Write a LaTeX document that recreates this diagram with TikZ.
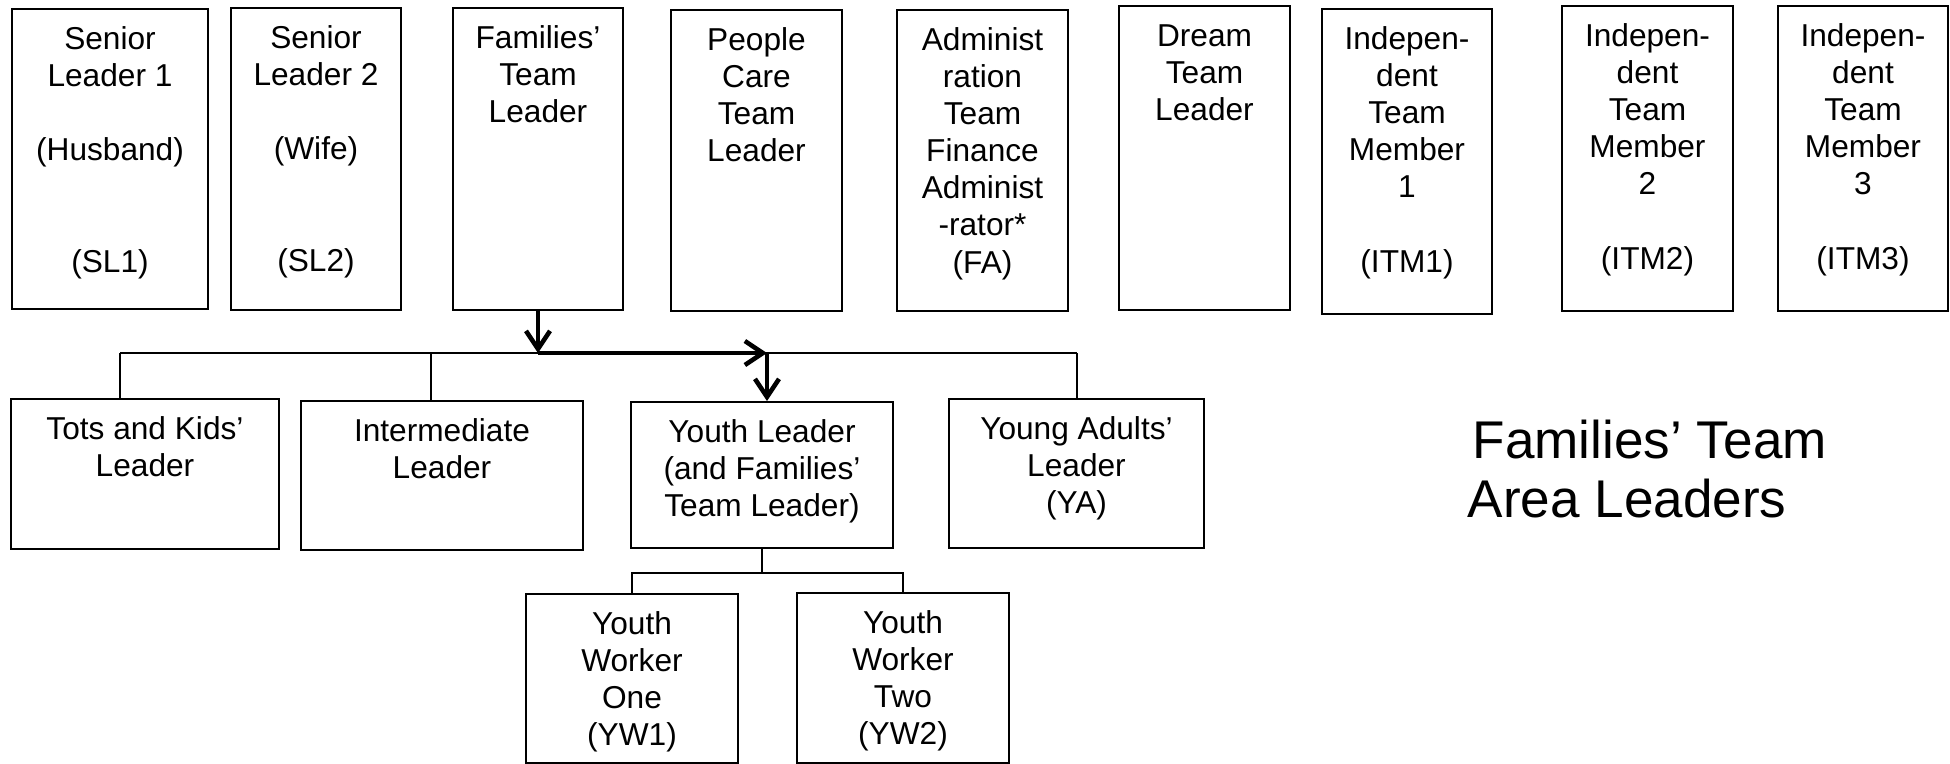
\documentclass[tikz,border=0pt]{standalone}
\usepackage{fontspec}
\setmainfont{Liberation Sans}
\usetikzlibrary{arrows.meta,calc}
\newlength\pxu
\setlength\pxu{0.01cm}
\newcommand{\orgtext}[3]{\parbox[c][#2\pxu][t]{#1\pxu}{\centering\vspace*{4.0pt}\strut#3}}
\tikzset{
	orgbox/.style={draw, line width=0.57pt, anchor=north west, inner sep=0pt, font=\fontsize{9}{10.57}\selectfont},
	link/.style={line width=0.57pt},
	boldlink/.style={line width=1.3pt, -{Straight Barb[length=0.18cm,width=0.24cm]}}
}

\begin{document}
\begin{tikzpicture}[x=0.01cm, y=-0.01cm]
			%%%%% START %%%%%
			\useasboundingbox (0,0) rectangle (1950,763);
			
			\node[orgbox] (sl1) at (11,8) {\orgtext{196}{300}{Senior\\Leader 1\\~\\(Husband)\\~\\~\\(SL1)}};
			\node[orgbox] (sl2) at (230,7) {\orgtext{170}{302}{Senior\\Leader 2\\~\\(Wife)\\~\\~\\(SL2)}};
			\node[orgbox] (ftl) at (452,7) {\orgtext{170}{302}{Families'\\Team\\Leader}};
			\node[orgbox] (pct) at (670,9) {\orgtext{171}{301}{People\\Care\\Team\\Leader}};
			\node[orgbox] (atf) at (896,9) {\orgtext{171}{301}{Administ\\ration\\Team\\Finance\\Administ\\-rator*\\(FA)}};
			\node[orgbox] (dtl) at (1118,5) {\orgtext{171}{304}{Dream\\Team\\Leader}};
			\node[orgbox] (itm1) at (1321,8) {\orgtext{170}{305}{Indepen-\\dent\\Team\\Member\\1\\~\\(ITM1)}};
			\node[orgbox] (itm2) at (1561,5) {\orgtext{171}{305}{Indepen-\\dent\\Team\\Member\\2\\~\\(ITM2)}};
			\node[orgbox] (itm3) at (1777,5) {\orgtext{170}{305}{Indepen-\\dent\\Team\\Member\\3\\~\\(ITM3)}};
			
			\node[orgbox] (tk) at (10,398) {\orgtext{268}{150}{Tots and Kids'\\Leader}};
			\node[orgbox] (int) at (300,400) {\orgtext{282}{149}{Intermediate\\Leader}};
			\node[orgbox] (yl) at (630,401) {\orgtext{262}{146}{Youth Leader\\(and Families'\\Team Leader)}};
			\node[orgbox] (ya) at (948,398) {\orgtext{255}{149}{Young Adults'\\Leader\\(YA)}};
			
			\node[orgbox] (yw1) at (525,593) {\orgtext{212}{169}{Youth\\Worker\\One\\(YW1)}};
			\node[orgbox] (yw2) at (796,592) {\orgtext{212}{170}{Youth\\Worker\\Two\\(YW2)}};
			
			\node[anchor=north west, inner sep=0pt, align=left, font=\fontsize{15.1}{17.0}\selectfont] (title) at (1467,419) {\hspace*{0.05cm}Families' Team\\Area Leaders};
			
			\coordinate (busL) at (120,353);
			\coordinate (busM) at (431,353);
			\coordinate (busR) at (1077,353);
			\coordinate (hub) at (ftl.south |- busL);
			\coordinate (hubR) at (767,353);
			\coordinate (ybar) at ($(yl.south)+(0,24)$);
			
			\draw[link] (busL) -- (busR);
			\draw[link] (busL) -- (busL |- tk.north);
			\draw[link] (busM) -- (busM |- int.north);
			\draw[link] (busR) -- (busR |- ya.north);
			
			\draw[boldlink] (ftl.south) -- (hub);
			\draw[boldlink] (hub) -- (hubR);
			\draw[boldlink] (hubR) -- (hubR |- yl.north);
			
			\draw[link] (yl.south) -- (ybar);
			\draw[link] (yw1.north) -- (yw1.north |- ybar) -- (yw2.north |- ybar) -- (yw2.north);
			
			%%%%% END %%%%%
\end{tikzpicture}
\end{document}
